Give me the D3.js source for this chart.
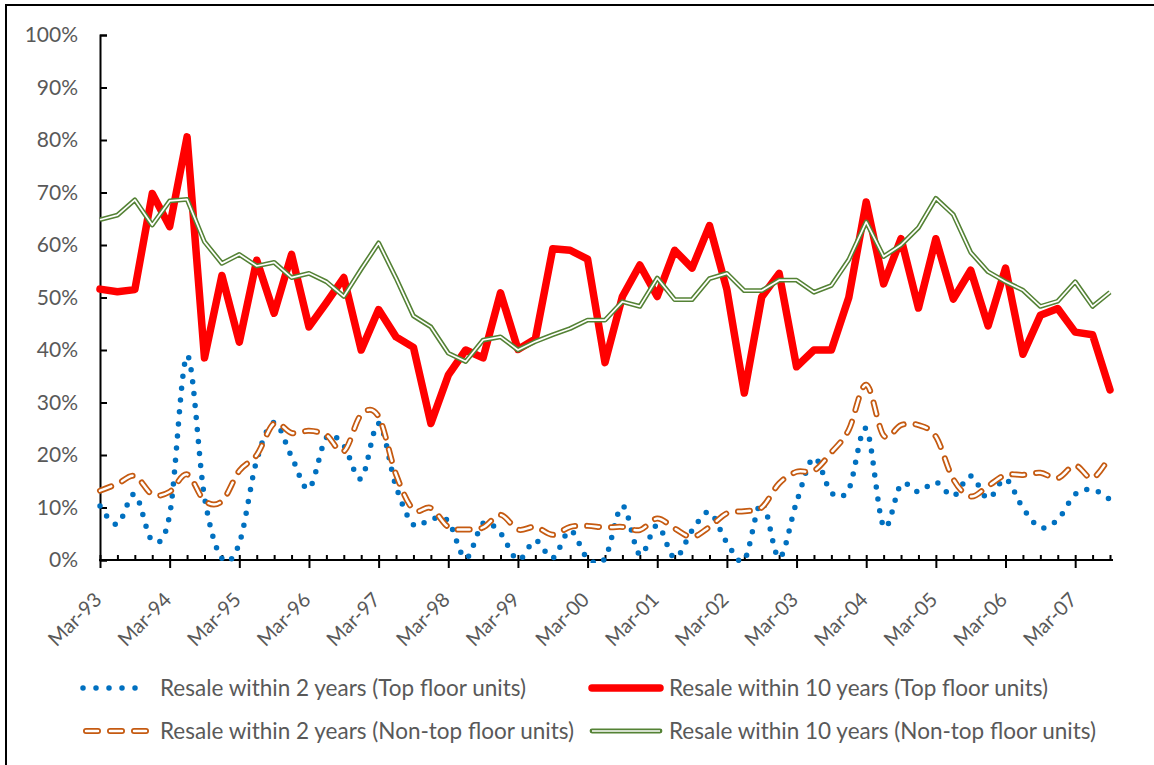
<!DOCTYPE html>
<html>
<head>
<meta charset="utf-8">
<script src="https://cdn.jsdelivr.net/npm/d3@7"></script>
<style>
  body { margin: 0; background: #fff; }
  text { font-family: Lato, "Noto Sans", sans-serif; fill: #595959; }
</style>
</head>
<body>
<div id="chart"></div>
<script>
// quarterly categories, Mar-93 .. Sep-07
var categories = [
  "Mar-93","Jun-93","Sep-93","Dec-93","Mar-94","Jun-94","Sep-94","Dec-94",
  "Mar-95","Jun-95","Sep-95","Dec-95","Mar-96","Jun-96","Sep-96","Dec-96",
  "Mar-97","Jun-97","Sep-97","Dec-97","Mar-98","Jun-98","Sep-98","Dec-98",
  "Mar-99","Jun-99","Sep-99","Dec-99","Mar-00","Jun-00","Sep-00","Dec-00",
  "Mar-01","Jun-01","Sep-01","Dec-01","Mar-02","Jun-02","Sep-02","Dec-02",
  "Mar-03","Jun-03","Sep-03","Dec-03","Mar-04","Jun-04","Sep-04","Dec-04",
  "Mar-05","Jun-05","Sep-05","Dec-05","Mar-06","Jun-06","Sep-06","Dec-06",
  "Mar-07","Jun-07","Sep-07"
];
var tickLabels = ["Mar-93","Mar-94","Mar-95","Mar-96","Mar-97","Mar-98","Mar-99",
  "Mar-00","Mar-01","Mar-02","Mar-03","Mar-04","Mar-05","Mar-06","Mar-07"];
var yTicks = [0, 10, 20, 30, 40, 50, 60, 70, 80, 90, 100];

// values in percent
var top2 = [10.3, 6.8, 12.5, 3.7, 8.6, 38.9, 12, 0.3, 3.2, 19,
  26.2, 19.7, 13.6, 23.3, 21.8, 15.5, 26, 14, 6.7, 7.8,
  7.4, 0.3, 7, 5.1, 0, 3.7, 0.4, 5.6, 0.3, 0.3,
  10.3, 1, 6.6, 0.4, 5.6, 9.1, 3.3, 0, 11, 0.4,
  11, 19.5, 12.8, 13.5, 25, 6.4, 14.4, 13, 14.8, 12.2,
  16, 11.7, 15.4, 9.9, 6.2, 7.7, 12.5, 13.4, 11.5];
var top10 = [51.6, 51.1, 51.5, 69.8, 63.5, 80.6, 38.5, 54.2, 41.5, 57.1,
  47, 58.2, 44.4, 49, 53.8, 40, 47.7, 42.5, 40.5, 26,
  35.2, 40, 38.5, 50.9, 40.1, 42.1, 59.3, 59, 57.3, 37.6,
  50.2, 56.2, 50.2, 59, 55.6, 63.7, 51.5, 31.8, 50.1, 54.6,
  36.8, 40, 40, 50, 68.2, 52.6, 61.2, 48, 61.2, 49.7,
  55.2, 44.6, 55.6, 39.2, 46.6, 47.9, 43.4, 42.9, 32.4];
var nonTop2 = [13.2, 14.5, 16, 12.5, 13, 16.3, 11.3, 11.2, 17, 20,
  26, 24.2, 24.6, 23.8, 20.7, 27.7, 27.3, 16.3, 9.6, 9.9,
  6.3, 5.8, 6.2, 8.6, 5.8, 6.3, 4.8, 6.3, 6.5, 6.2,
  6.3, 5.7, 7.9, 6, 4.4, 6.3, 8.9, 9.3, 10, 14.6,
  16.8, 17, 20.5, 24.8, 33.4, 23.7, 25.7, 25.7, 23.5, 15.4,
  12.1, 14.1, 16.2, 16.2, 16.6, 15.6, 18, 15.6, 19.8];
var nonTop10 = [64.8, 65.7, 68.6, 63.8, 68.4, 68.7, 60.6, 56.5, 58.2, 56,
  56.7, 53.8, 54.6, 53, 50.2, 55.4, 60.4, 53.7, 46.5, 44.4,
  39.4, 37.8, 41.9, 42.5, 40, 41.6, 42.9, 44.1, 45.7, 45.7,
  49.2, 48.3, 53.7, 49.6, 49.6, 53.6, 54.6, 51.3, 51.3, 53.3,
  53.3, 51, 52.3, 57.2, 64.4, 57.8, 60, 63.3, 68.9, 65.8,
  58.6, 54.9, 53, 51.4, 48.3, 49.3, 53, 48.3, 51];

var width = 1154;
var height = 765;

var svg = d3.select('#chart')
    .append('svg')
    .attr('width', width)
    .attr('height', height);

svg.append('rect')
    .attr('x', 6).attr('y', 5)
    .attr('width', width + 10).attr('height', height + 10)
    .attr('fill', '#fff')
    .attr('stroke', '#000')
    .attr('stroke-width', 2);

var x = d3.scalePoint().domain(categories).range([100, 1110]);
var y = d3.scaleLinear().domain([0, 100]).range([560, 35]);

svg.append('clipPath').attr('id', 'plotclip')
  .append('rect')
    .attr('x', 90).attr('y', 20)
    .attr('width', 1040).attr('height', 543);

// y axis
var yAxis = svg.append('g')
    .attr('transform', 'translate(100,0)')
    .call(d3.axisRight(y).tickValues(yTicks).tickSize(7).tickFormat(''));
yAxis.select('.domain').attr('stroke', '#000').attr('stroke-width', 2);
yAxis.selectAll('.tick line').attr('stroke', '#000').attr('stroke-width', 2);
svg.selectAll('.ylab')
    .data(yTicks)
    .enter().append('text')
    .attr('class', 'ylab')
    .attr('x', 78)
    .attr('y', function (d) { return y(d); })
    .attr('dy', '0.35em')
    .attr('text-anchor', 'end')
    .style('font-size', '21px')
    .text(function (d) { return d + '%'; });

// x axis: minor ticks inside, major ticks outside
var xMinor = svg.append('g')
    .attr('transform', 'translate(0,560)')
    .call(d3.axisTop(x).tickSize(5).tickFormat(''));
xMinor.select('.domain').remove();
xMinor.selectAll('.tick line').attr('stroke', '#000').attr('stroke-width', 2);

var xMajor = svg.append('g')
    .attr('transform', 'translate(0,560)')
    .call(d3.axisBottom(x).tickValues(tickLabels).tickSize(8).tickSizeOuter(0).tickFormat(''));
xMajor.select('.domain').attr('stroke', '#000').attr('stroke-width', 2)
    .attr('d', 'M99,0H1113');
xMajor.selectAll('.tick line').attr('stroke', '#000').attr('stroke-width', 2);

svg.selectAll('.xlab')
    .data(tickLabels)
    .enter().append('text')
    .attr('class', 'xlab')
    .attr('text-anchor', 'end')
    .attr('dy', '0.35em')
    .style('font-size', '20px')
    .attr('transform', function (d) {
      return 'translate(' + (x(d) - 2) + ',596) rotate(-45)';
    })
    .text(function (d) { return d; });

// lines
var straight = d3.line()
    .x(function (d, i) { return x(categories[i]); })
    .y(function (d) { return y(d); });
var smooth = d3.line()
    .x(function (d, i) { return x(categories[i]); })
    .y(function (d) { return y(d); })
    .curve(d3.curveCatmullRom.alpha(0));

var plot = svg.append('g').attr('fill', 'none')
    .attr('clip-path', 'url(#plotclip)')
    .attr('stroke-linejoin', 'round');

plot.append('path')
    .datum(top2)
    .attr('d', smooth)
    .attr('stroke', '#0070C0')
    .attr('stroke-width', 5.5)
    .attr('stroke-linecap', 'round')
    .attr('stroke-dasharray', '0 12');

plot.append('path')
    .datum(top10)
    .attr('d', straight)
    .attr('stroke', '#FF0000')
    .attr('stroke-width', 7.5)
    .attr('stroke-linecap', 'round');

plot.append('path')
    .datum(nonTop2)
    .attr('d', smooth)
    .attr('stroke', '#C55A11')
    .attr('stroke-width', 6)
    .attr('stroke-linecap', 'round')
    .attr('stroke-dasharray', '12 12');
plot.append('path')
    .datum(nonTop2)
    .attr('d', smooth)
    .attr('stroke', '#fff')
    .attr('stroke-width', 2.5)
    .attr('stroke-linecap', 'round')
    .attr('stroke-dasharray', '12 12');

plot.append('path')
    .datum(nonTop10)
    .attr('d', straight)
    .attr('stroke', '#548235')
    .attr('stroke-width', 4.8);
plot.append('path')
    .datum(nonTop10)
    .attr('d', straight)
    .attr('stroke', '#fff')
    .attr('stroke-width', 1.7);

// legend
var legend = [
  {name: 'Resale within 2 years (Top floor units)', kind: 'dot', x: 83, y: 688},
  {name: 'Resale within 10 years (Top floor units)', kind: 'solid', x: 592, y: 688},
  {name: 'Resale within 2 years (Non-top floor units)', kind: 'dash', x: 83, y: 731},
  {name: 'Resale within 10 years (Non-top floor units)', kind: 'double', x: 592, y: 731}
];
legend.forEach(function (l) {
  var g = svg.append('g').attr('transform', 'translate(' + l.x + ',' + l.y + ')');
  var sample = 'M0,0H' + (l.kind === 'dot' || l.kind === 'dash' ? 65 : 68);
  if (l.kind === 'dot') {
    g.append('path').attr('d', sample).attr('stroke', '#0070C0')
        .attr('stroke-width', 5.5).attr('stroke-linecap', 'round')
        .attr('stroke-dasharray', '0 13');
  } else if (l.kind === 'solid') {
    g.append('path').attr('d', sample).attr('stroke', '#FF0000')
        .attr('stroke-width', 7.5).attr('stroke-linecap', 'round');
  } else if (l.kind === 'dash') {
    g.append('path').attr('d', 'M3,0H65').attr('stroke', '#C55A11')
        .attr('stroke-width', 6).attr('stroke-linecap', 'round')
        .attr('stroke-dasharray', '12 12');
    g.append('path').attr('d', 'M3,0H65').attr('stroke', '#fff')
        .attr('stroke-width', 2.5).attr('stroke-linecap', 'round')
        .attr('stroke-dasharray', '12 12');
  } else {
    g.append('path').attr('d', sample).attr('stroke', '#548235')
        .attr('stroke-width', 4.8).attr('stroke-linecap', 'round');
    g.append('path').attr('d', sample).attr('stroke', '#fff')
        .attr('stroke-width', 1.7);
  }
  g.append('text')
      .attr('x', 77)
      .attr('dy', '0.35em')
      .style('font-size', '22.5px')
      .text(l.name);
});
</script>
</body>
</html>
